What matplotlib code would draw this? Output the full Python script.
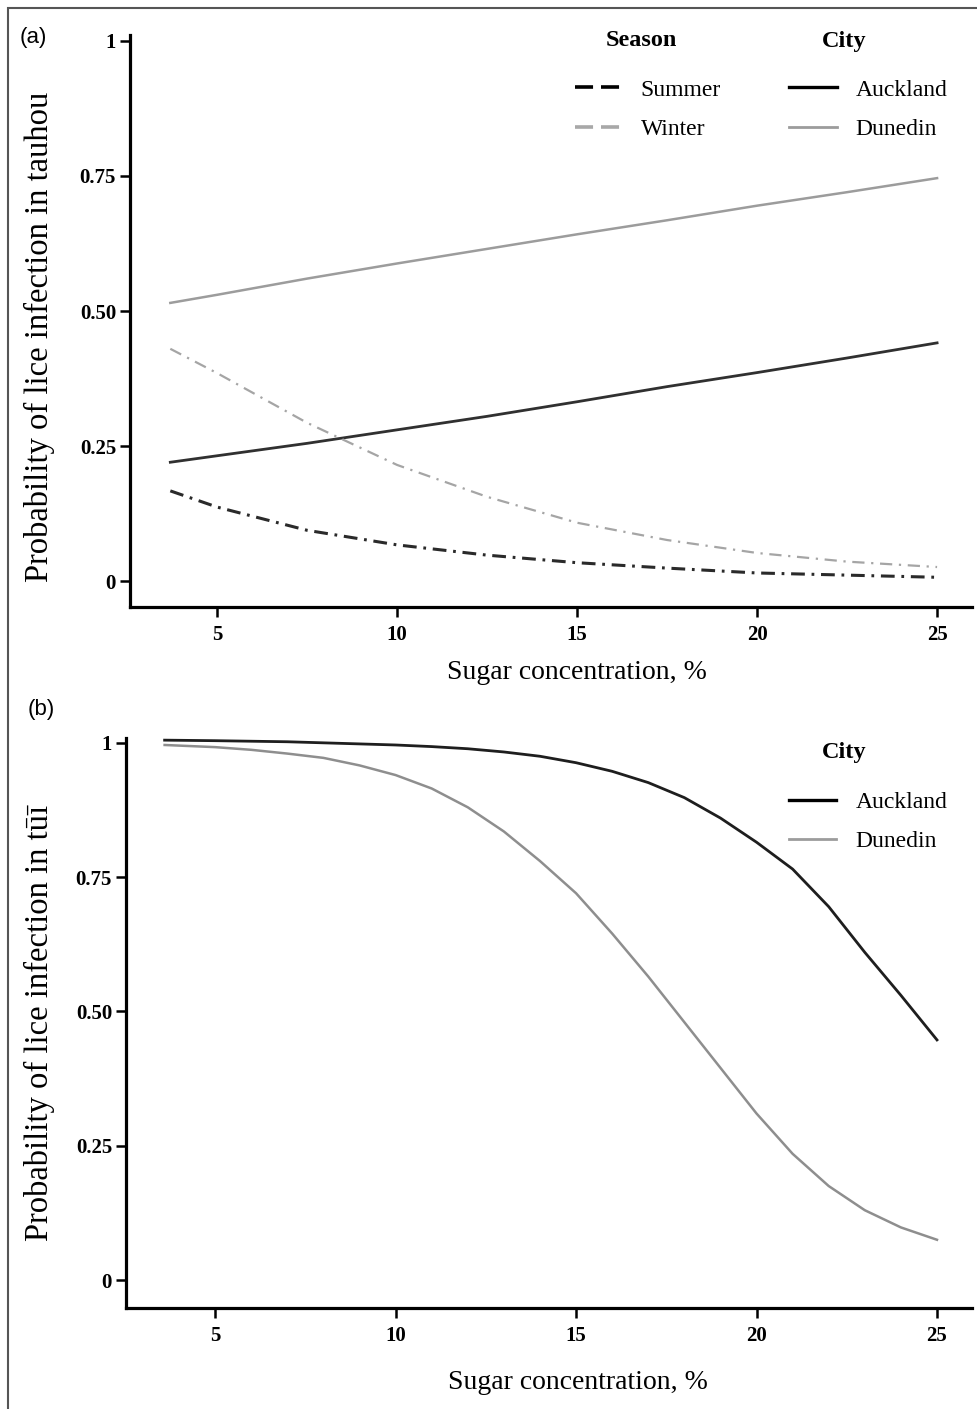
import matplotlib
matplotlib.use('Agg')
import matplotlib.pyplot as plt
from matplotlib.lines import Line2D
from matplotlib.patches import Rectangle

# ---- data ----
# panel (a): tauhou
sugar_a = [3.7, 5, 7.5, 10, 12.5, 15, 17.5, 20, 22.5, 25]
dunedin_a = [0.515, 0.53, 0.56, 0.588, 0.615, 0.642, 0.668, 0.695, 0.72, 0.746]
auckland_a = [0.22, 0.232, 0.255, 0.28, 0.305, 0.332, 0.36, 0.386, 0.413, 0.441]
winter_a = [0.43, 0.385, 0.293, 0.215, 0.156, 0.108, 0.076, 0.052, 0.036, 0.026]
summer_a = [0.167, 0.137, 0.094, 0.067, 0.048, 0.034, 0.024, 0.015, 0.011, 0.007]

# panel (b): tui
sugar_b = [3.6, 5, 6, 7, 8, 9, 10, 11, 12, 13, 14, 15, 16, 17, 18, 19, 20, 21, 22, 23, 24, 25]
auckland_b = [1.005, 1.004, 1.003, 1.002, 1.0, 0.998, 0.996, 0.993, 0.989, 0.983, 0.975, 0.963,
              0.947, 0.926, 0.898, 0.86, 0.815, 0.765, 0.695, 0.61, 0.53, 0.447]
dunedin_b = [0.996, 0.992, 0.987, 0.98, 0.972, 0.958, 0.94, 0.915, 0.88, 0.835, 0.78, 0.72,
             0.645, 0.565, 0.48, 0.395, 0.31, 0.235, 0.175, 0.13, 0.098, 0.075]

xticks = [5, 10, 15, 20, 25]
yticks = [0, 0.25, 0.5, 0.75, 1]
ytick_labels = ['0', '0.25', '0.50', '0.75', '1']

W, H = 978, 1409
serif = 'Liberation Serif'
dark = '#1e1e1e'
light = '#9c9c9c'


def style_axis(ax):
    for s in ['top', 'right']:
        ax.spines[s].set_visible(False)
    for s in ['left', 'bottom']:
        ax.spines[s].set_linewidth(2.3)
        ax.spines[s].set_color('black')
    ax.tick_params(axis='both', direction='out', length=7, width=1.8, color='black')
    ax.tick_params(axis='y', pad=3)
    ax.tick_params(axis='x', pad=6)
    ax.set_xticks(xticks)
    ax.set_xticklabels([str(t) for t in xticks])
    ax.set_yticks(yticks)
    ax.set_yticklabels(ytick_labels)
    for lab in ax.get_xticklabels() + ax.get_yticklabels():
        lab.set_fontfamily(serif)
        lab.set_fontweight('bold')
        lab.set_fontsize(15)


def legend_title(ax, x_px, y_px, ax_left, ax_bottom, ax_w, ax_h, text):
    # group heading placed above a legend block
    ax.text((x_px - ax_left) / ax_w, (ax_bottom - y_px) / ax_h, text, transform=ax.transAxes,
            ha='center', va='center', fontfamily=serif, fontweight='bold', fontsize=17.5)


fig = plt.figure(figsize=(W / 100, H / 100), dpi=100)

# outer frame
fig.patches.append(Rectangle((8 / W, -0.01), 1.02, 1 - 8 / H + 0.01, transform=fig.transFigure,
                             fill=False, edgecolor='#555555', linewidth=1.5))

season_handles = [Line2D([], [], color='black', lw=2.6, linestyle=(0, (5, 2.2))),
                  Line2D([], [], color='#a8a8a8', lw=2.6, linestyle=(0, (5, 2.2)))]
city_handles = [Line2D([], [], color='black', lw=2.4),
                Line2D([], [], color=light, lw=2.0)]
leg_kw = dict(frameon=False, loc='upper left', handlelength=2.0, handletextpad=0.8,
              labelspacing=0.75, borderpad=0, borderaxespad=0,
              prop={'family': serif, 'size': 17})

# ---- panel (a) ----
ax1 = fig.add_axes([130 / W, 1 - 607 / H, 842 / W, 572 / H])
ax1.plot(sugar_a, dunedin_a, color=light, lw=1.8)
ax1.plot(sugar_a, auckland_a, color='#303030', lw=2.0)
ax1.plot(sugar_a, winter_a, color='#a5a5a5', lw=1.6, linestyle=(0, (5.5, 3, 1, 3)))
ax1.plot(sugar_a, summer_a, color='#2a2a2a', lw=2.2, linestyle=(0, (4.5, 2.2, 0.9, 2.2)))
ax1.set_xlim(2.58, 25.97)
ax1.set_ylim(-0.048, 1.011)
style_axis(ax1)
ax1.set_xlabel('Sugar concentration, %', fontfamily=serif, fontsize=20)
ax1.xaxis.set_label_coords(0.531, -0.093)
ax1.set_ylabel('Probability of lice infection in tauhou', fontfamily=serif, fontsize=23.5)
ax1.yaxis.set_label_coords(-0.089, 0.472)

leg1 = ax1.legend(season_handles, ['Summer', 'Winter'],
                  bbox_to_anchor=(0.528, 0.923), **leg_kw)
ax1.add_artist(leg1)
ax1.legend(city_handles, ['Auckland', 'Dunedin'],
           bbox_to_anchor=(0.783, 0.923), **leg_kw)
legend_title(ax1, 641, 41, 130, 607, 842, 572, 'Season')
legend_title(ax1, 844, 41, 130, 607, 842, 572, 'City')

fig.text(20 / W, 1 - 38 / H, '(a)', fontfamily='Liberation Sans', fontsize=16, va='center')

# ---- panel (b) ----
ax2 = fig.add_axes([126 / W, 1 - 1308 / H, 846 / W, 570 / H])
ax2.plot(sugar_b, auckland_b, color=dark, lw=2.0, clip_on=False)
ax2.plot(sugar_b, dunedin_b, color='#8e8e8e', lw=1.8, clip_on=False)
ax2.set_xlim(2.53, 25.97)
ax2.set_ylim(-0.052, 1.009)
style_axis(ax2)
ax2.set_xlabel('Sugar concentration, %', fontfamily=serif, fontsize=20)
ax2.xaxis.set_label_coords(0.534, -0.109)
ax2.set_ylabel('Probability of lice infection in tūī', fontfamily=serif, fontsize=23.5)
ax2.yaxis.set_label_coords(-0.084, 0.5)

ax2.legend(city_handles, ['Auckland', 'Dunedin'],
           bbox_to_anchor=(0.784, 0.906), **leg_kw)
legend_title(ax2, 844, 752, 126, 1308, 846, 570, 'City')

fig.text(28 / W, 1 - 710 / H, '(b)', fontfamily='Liberation Sans', fontsize=16, va='center')

fig.savefig('out.png', dpi=100)
